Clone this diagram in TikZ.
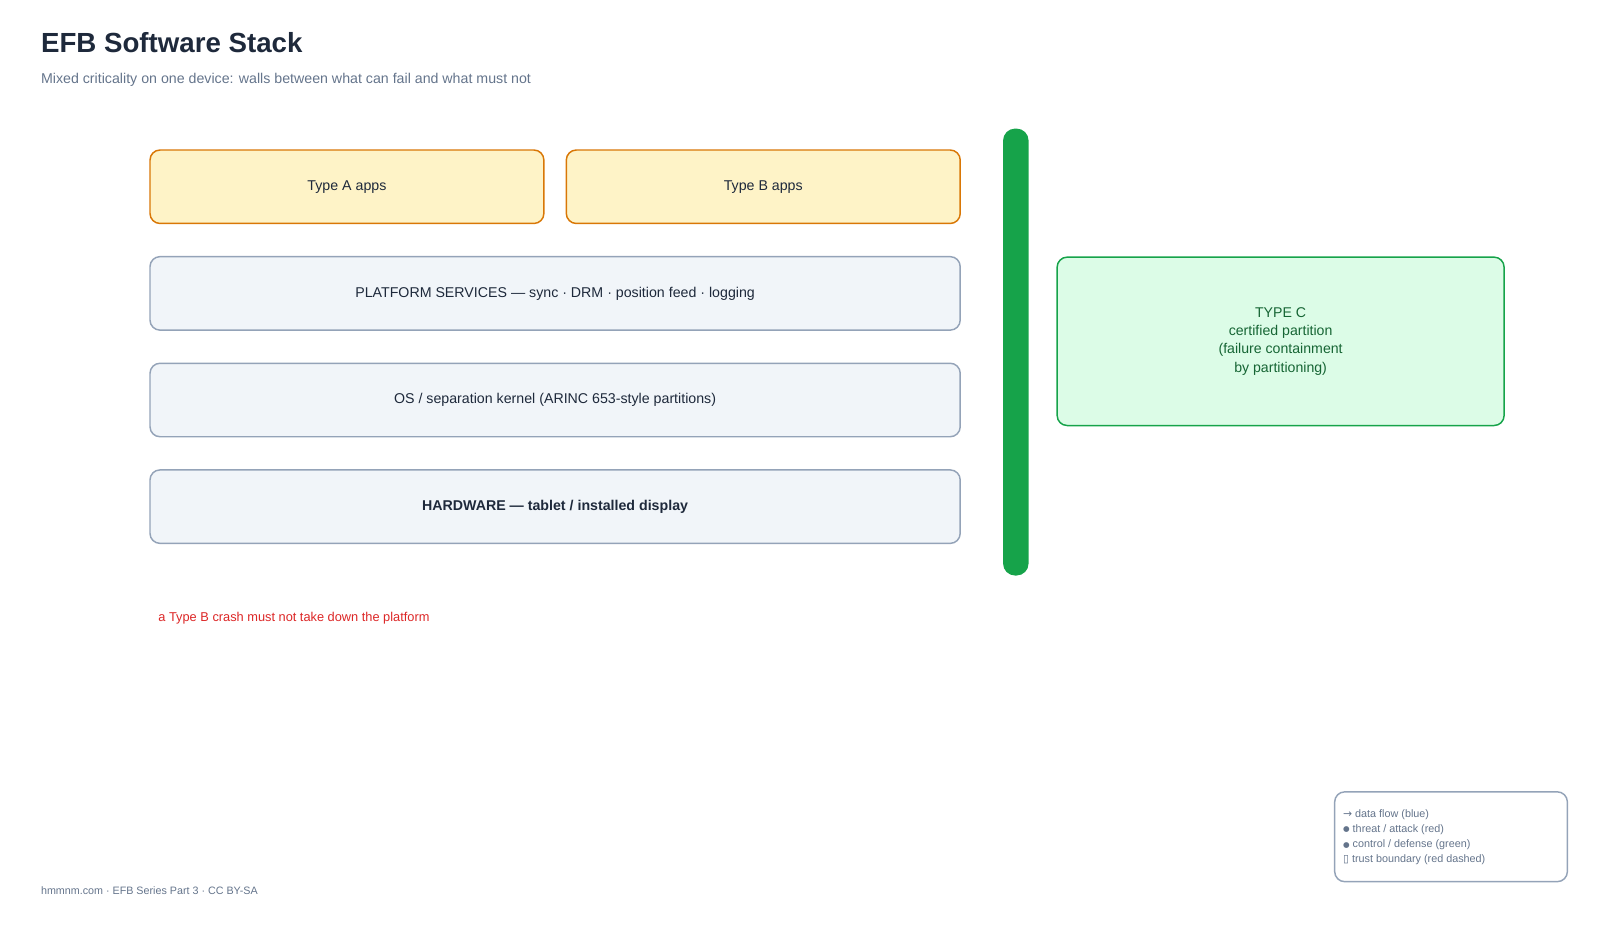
\documentclass[tikz,border=0pt]{standalone}
\usepackage{fontspec}
\setmainfont{Liberation Sans}
\newfontfamily\symfont{DejaVu Sans}
\definecolor{ink}{HTML}{1E293B}
\definecolor{muted}{HTML}{64748B}
\definecolor{appfill}{HTML}{FEF3C7}
\definecolor{appline}{HTML}{D97706}
\definecolor{layfill}{HTML}{F1F5F9}
\definecolor{layline}{HTML}{94A3B8}
\definecolor{wallgreen}{HTML}{16A34A}
\definecolor{cfill}{HTML}{DCFCE7}
\definecolor{ctext}{HTML}{166534}
\definecolor{warnred}{HTML}{DC2626}
\def\upx{0.76531pt}
\newcommand\legdot{{\symfont\raisebox{0.6pt}{\scalebox{0.7}{●}}}}
\begin{document}
\begin{tikzpicture}[x=0.76531pt,y=-0.76531pt,
  box/.style={draw, rounded corners=7.5pt, line width=1.1pt, inner sep=0pt, align=center, font=\fontsize{10.65}{13}\selectfont},
  appbox/.style={box, fill=appfill, draw=appline, text=ink, minimum width=386*\upx, minimum height=72*\upx},
  laybox/.style={box, fill=layfill, draw=layline, text=ink, minimum width=794*\upx, minimum height=72*\upx},
  cbox/.style={box, fill=cfill, draw=wallgreen, text=ctext, minimum width=438*\upx, minimum height=165*\upx, font=\fontsize{10.6}{13.6}\selectfont},
  legtxt/.style={anchor=base west, inner sep=0pt, text=muted, font=\fontsize{8.1}{9.5}\selectfont}
]
\useasboundingbox (0,0) rectangle (1568,915.3);
\node[anchor=base west, inner sep=0pt, text=ink, font=\fontsize{20.75}{25}\selectfont\bfseries] (title) at (40,51) {EFB Software Stack};
\node[anchor=base west, inner sep=0pt, text=muted, font=\fontsize{10.65}{13}\selectfont] (subtitle) at (40,82) {Mixed criticality on one device: walls between what can fail and what must not};

\node[appbox] (typea) at (340,183) {Type A apps};
\node[appbox] (typeb) at (748,183) {Type B apps};
\node[laybox] (platform) at (544,287.5) {PLATFORM SERVICES — sync · DRM · position feed · logging};
\node[laybox] (os) at (544,392) {OS / separation kernel (ARINC 653-style partitions)};
\node[laybox, font=\fontsize{10.65}{13}\selectfont\bfseries] (hw) at (544,496.5) {HARDWARE — tablet / installed display};

\node[fill=wallgreen, rounded corners=9pt, minimum width=25*\upx, minimum height=438*\upx, inner sep=0pt] (wall) at (995.5,345) {};

\node[cbox] (typec) at (1255,334.5) {TYPE C\\certified partition\\(failure containment\\by partitioning)};

\node[anchor=base west, inner sep=0pt, text=warnred, font=\fontsize{9.6}{12}\selectfont] (note) at (155,609) {a Type B crash must not take down the platform};

\node[draw=layline, line width=1.1pt, rounded corners=7.5pt, minimum width=228*\upx, minimum height=88*\upx, inner sep=0pt] (legend) at (1422,820) {};
\node[legtxt] (leg1) at (1316,801) {{\symfont →} data flow (blue)};
\node[legtxt] (leg2) at (1316,816) {\legdot{} threat / attack (red)};
\node[legtxt] (leg3) at (1316,831) {\legdot{} control / defense (green)};
\node[legtxt] (leg4) at (1316,845) {{\symfont ▯} trust boundary (red dashed)};

\node[anchor=base west, inner sep=0pt, text=muted, font=\fontsize{8.05}{9.5}\selectfont] (footer) at (40,877) {hmmnm.com · EFB Series Part 3 · CC BY-SA};
\end{tikzpicture}
\end{document}
